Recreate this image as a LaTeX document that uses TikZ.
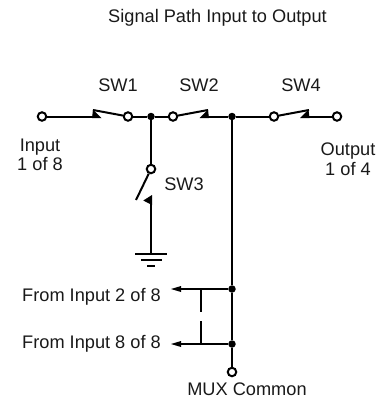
\documentclass[tikz,border=0pt]{standalone}
\usepackage{fontspec}
\setmainfont{Liberation Sans}
\begin{document}
\begin{tikzpicture}[x=1pt,y=-1pt,
  wire/.style={line width=2pt,draw=black},
  term/.style={circle,draw=black,line width=2pt,fill=white,inner sep=0pt,minimum size=8.5pt},
  dotj/.style={circle,fill=black,inner sep=0pt,minimum size=7.5pt},
  wedge/.style={fill=black,draw=none},
  lbl/.style={inner sep=0pt,font=\fontsize{18.2}{19.5}\selectfont,align=center,text=black!90}]
\useasboundingbox (0,0) rectangle (383,400);
\node[lbl] (title) at (217.5,18) {Signal Path Input to Output};
\node[lbl] (s1) at (118,85.5) {SW1};
\node[lbl] (s2) at (199,85.5) {SW2};
\node[lbl] (s4) at (301,85.5) {SW4};
\node[lbl] (s3) at (184,184) {SW3};
\node[lbl] (in) at (40,155) {Input\\1 of 8};
\node[lbl] (out) at (348,159) {Output\\1 of 4};
\node[lbl,anchor=east] (f2) at (161,297) {From Input 2 of 8};
\node[lbl,anchor=east] (f8) at (161,344) {From Input 8 of 8};
\node[lbl,align=none] (mux) at (247,389.5) {MUX Common};

\coordinate (a1) at (97,116.5);
\coordinate (a1t) at (93,110);
\coordinate (a2) at (205,116.5);
\coordinate (a2t) at (208,110);
\coordinate (a4) at (306,116.5);
\coordinate (a4t) at (309,110);
\coordinate (a3) at (151,199);
\coordinate (a3t) at (136,200);
\coordinate (g) at (151,254);
\coordinate (gl) at (135,254);
\coordinate (gr) at (167,254);
\coordinate (hl) at (141,260);
\coordinate (hr) at (162,260);
\coordinate (il) at (147,266);
\coordinate (ir) at (155,266);
\coordinate (ar2) at (175,289);
\coordinate (ar8) at (175,344);
\coordinate (b2) at (201,289);
\coordinate (b8) at (201,344);
\coordinate (d2) at (201,312);
\coordinate (d8) at (201,321);

\node[term] (tin) at (42,116.5) {};
\node[term] (t1) at (128,116.5) {};
\node[dotj] (j1) at (151,116.5) {};
\node[term] (t2) at (173,116.5) {};
\node[dotj] (j2) at (232,116.5) {};
\node[term] (t4) at (274,116.5) {};
\node[term] (tout) at (337,116.5) {};
\node[term] (t3) at (151,169) {};
\node[dotj] (j3) at (232,289) {};
\node[dotj] (j4) at (232,344) {};
\node[term] (tm) at (232,372) {};

\draw[wire] (tin) -- (a1);
\draw[wire] (a1t) -- (t1);
\draw[wire] (t1) -- (j1);
\draw[wire] (j1) -- (t2);
\draw[wire] (t2) -- (a2t);
\draw[wire] (a2) -- (j2);
\draw[wire] (j2) -- (t4);
\draw[wire] (t4) -- (a4t);
\draw[wire] (a4) -- (tout);
\draw[wire] (j1) -- (t3);
\draw[wire] (t3) -- (a3t);
\draw[wire] (a3) -- (g);
\draw[wire] (gl) -- (gr);
\draw[wire] (hl) -- (hr);
\draw[wire] (il) -- (ir);
\draw[wire] (j2) -- (j3);
\draw[wire] (j3) -- (j4);
\draw[wire] (j4) -- (tm);
\draw[wire] (j3) -- (ar2);
\draw[wire] (j4) -- (ar8);
\draw[wire] (b2) -- (d2);
\draw[wire] (d8) -- (b8);

\fill[wedge] (93,109.5) -- (101.5,118) -- (92,118) -- cycle;
\fill[wedge] (208,109.5) -- (209,118) -- (199.5,118) -- cycle;
\fill[wedge] (308.5,109.5) -- (309.5,118) -- (300,118) -- cycle;
\fill[wedge] (143.3,200.5) -- (152,195) -- (152,205) -- cycle;
\fill[wedge] (171,289) -- (181,286) -- (181,292) -- cycle;
\fill[wedge] (171,344) -- (181,341) -- (181,347) -- cycle;
\end{tikzpicture}
\end{document}
